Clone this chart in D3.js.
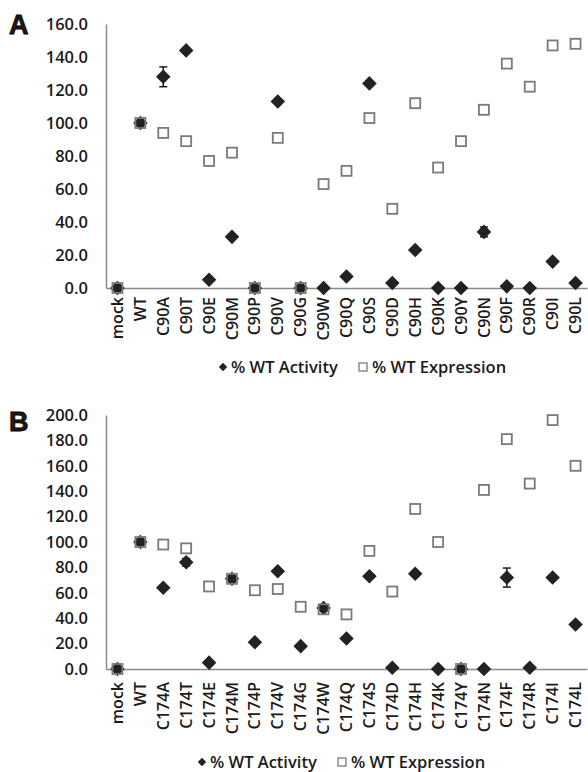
<!DOCTYPE html>
<html>
<head>
<meta charset="utf-8">
<script src="https://cdn.jsdelivr.net/npm/d3@7"></script>
<style>
  body { margin: 0; background: #fff; }
  text { font-family: "Open Sans", sans-serif; font-weight: 600; fill: #1a1a1a; }
  .panel-letter { font-family: "Liberation Sans", Arial, sans-serif; font-weight: 700; }
</style>
</head>
<body>
<script>
// panel A data
const catsA = ["mock", "WT", "C90A", "C90T", "C90E", "C90M", "C90P", "C90V", "C90G", "C90W", "C90Q",
  "C90S", "C90D", "C90H", "C90K", "C90Y", "C90N", "C90F", "C90R", "C90I", "C90L"];
const activityA = [0, 100, 128, 144, 5, 31, 0, 113, 0, 0, 7, 124, 3, 23, 0, 0, 34, 1, 0, 16, 3];
const expressionA = [0, 100, 94, 89, 77, 82, 0, 91, 0, 63, 71, 103, 48, 112, 73, 89, 108, 136, 122, 147, 148];
const errorA = [0, 1.5, 6, 0, 0, 0, 0, 0, 0, 0, 0, 0, 0, 0, 0, 0, 3, 0, 0, 0, 0];
const ticksA = [0, 20, 40, 60, 80, 100, 120, 140, 160];

// panel B data
const catsB = ["mock", "WT", "C174A", "C174T", "C174E", "C174M", "C174P", "C174V", "C174G", "C174W", "C174Q",
  "C174S", "C174D", "C174H", "C174K", "C174Y", "C174N", "C174F", "C174R", "C174I", "C174L"];
const activityB = [0, 100, 64, 84, 5, 71, 21, 77, 18, 48, 24, 73, 1, 75, 0, 0, 0, 72, 1, 72, 35];
const expressionB = [0, 100, 98, 95, 65, 71, 62, 63, 49, 47, 43, 93, 61, 126, 100, 0, 141, 181, 146, 196, 160];
const errorB = [0, 2, 0, 3, 0, 2, 0, 0, 0, 2, 0, 0, 0, 0, 0, 0, 0, 7.5, 0, 0, 0];
const ticksB = [0, 20, 40, 60, 80, 100, 120, 140, 160, 180, 200];

const legendLabels = ["% WT Activity", "% WT Expression"];

const W = 588, H = 772;
const svg = d3.select("body").append("svg")
  .attr("width", W)
  .attr("height", H);

const diamond = d3.symbol().type(d3.symbolDiamond2).size(135);

function drawPanel(opt) {
  const g = svg.append("g");

  const x = d3.scaleBand()
    .domain(opt.cats)
    .range([106, 587]);

  const y = d3.scaleLinear()
    .domain([0, opt.ticks[opt.ticks.length - 1]])
    .range([opt.bottom, opt.top]);

  // y axis
  const yAxis = g.append("g")
    .attr("transform", "translate(106,0)")
    .call(d3.axisLeft(y).tickValues(opt.ticks).tickSize(0).tickPadding(18).tickFormat(d3.format(".1f")));
  yAxis.select(".domain").attr("stroke", "#8a8a8a").attr("stroke-width", 1.5);
  yAxis.selectAll("text").style("font-size", "16.5px").attr("fill", "#1a1a1a");

  // x axis
  const xAxis = g.append("g")
    .attr("transform", "translate(0," + opt.bottom + ")")
    .call(d3.axisBottom(x).tickSize(0).tickSizeOuter(0));
  xAxis.select(".domain").attr("stroke", "#8a8a8a").attr("stroke-width", 1.5);
  xAxis.selectAll("text")
    .style("font-size", "16px")
    .attr("fill", "#1a1a1a")
    .attr("transform", "rotate(-90)")
    .attr("x", -opt.labelPad)
    .attr("y", 0)
    .attr("dy", "0.35em")
    .style("text-anchor", "end");

  const cx = function(d, i) { return x(opt.cats[i]) + x.bandwidth() / 2; };

  // error bars
  const errs = opt.activity.map(function(v, i) { return { v: v, e: opt.error[i], i: i }; })
    .filter(function(d) { return d.e > 0; });
  const eb = g.append("g").attr("stroke", "#1a1a1a").attr("stroke-width", 1.5);
  errs.forEach(function(d) {
    const px = cx(null, d.i);
    eb.append("line").attr("x1", px).attr("x2", px).attr("y1", y(d.v - d.e)).attr("y2", y(d.v + d.e));
    eb.append("line").attr("x1", px - 4).attr("x2", px + 4).attr("y1", y(d.v - d.e)).attr("y2", y(d.v - d.e));
    eb.append("line").attr("x1", px - 4).attr("x2", px + 4).attr("y1", y(d.v + d.e)).attr("y2", y(d.v + d.e));
  });

  // activity diamonds
  g.selectAll(".act")
    .data(opt.activity)
    .enter()
    .append("path")
    .attr("class", "act")
    .attr("d", diamond)
    .attr("transform", function(d, i) { return "translate(" + cx(d, i) + "," + y(d) + ")"; })
    .attr("fill", "#222");

  // expression squares
  g.selectAll(".exp")
    .data(opt.expression)
    .enter()
    .append("rect")
    .attr("class", "exp")
    .attr("x", function(d, i) { return cx(d, i) - 5; })
    .attr("y", function(d) { return y(d) - 5; })
    .attr("width", 10)
    .attr("height", 10)
    .attr("fill", "none")
    .attr("stroke", "#7a7a7a")
    .attr("stroke-width", 1.8);

  // panel letter
  g.append("text")
    .attr("class", "panel-letter")
    .attr("x", 9)
    .attr("y", opt.letterY)
    .style("font-size", "27px")
    .style("stroke", "#000")
    .style("stroke-width", 0.8)
    .attr("fill", "#000")
    .text(opt.letter);

  // legend
  const lg = g.append("g").attr("transform", "translate(" + opt.legendX + "," + opt.legendY + ")");
  lg.append("path")
    .attr("d", d3.symbol().type(d3.symbolDiamond2).size(45))
    .attr("fill", "#222");
  lg.append("text")
    .attr("x", 8).attr("dy", "0.35em")
    .style("font-size", "16.5px")
    .text(legendLabels[0]);
  lg.append("rect")
    .attr("x", 136).attr("y", -4)
    .attr("width", 8).attr("height", 8)
    .attr("fill", "none").attr("stroke", "#7a7a7a").attr("stroke-width", 1.3);
  lg.append("text")
    .attr("x", 149).attr("dy", "0.35em")
    .style("font-size", "16.5px")
    .text(legendLabels[1]);
}

drawPanel({
  cats: catsA, activity: activityA, expression: expressionA, error: errorA, ticks: ticksA,
  top: 24, bottom: 288, labelPad: 9, letter: "A", letterY: 34, legendX: 223, legendY: 367
});

drawPanel({
  cats: catsB, activity: activityB, expression: expressionB, error: errorB, ticks: ticksB,
  top: 415, bottom: 669, labelPad: 13, letter: "B", letterY: 431, legendX: 202, legendY: 762
});
</script>
</body>
</html>
